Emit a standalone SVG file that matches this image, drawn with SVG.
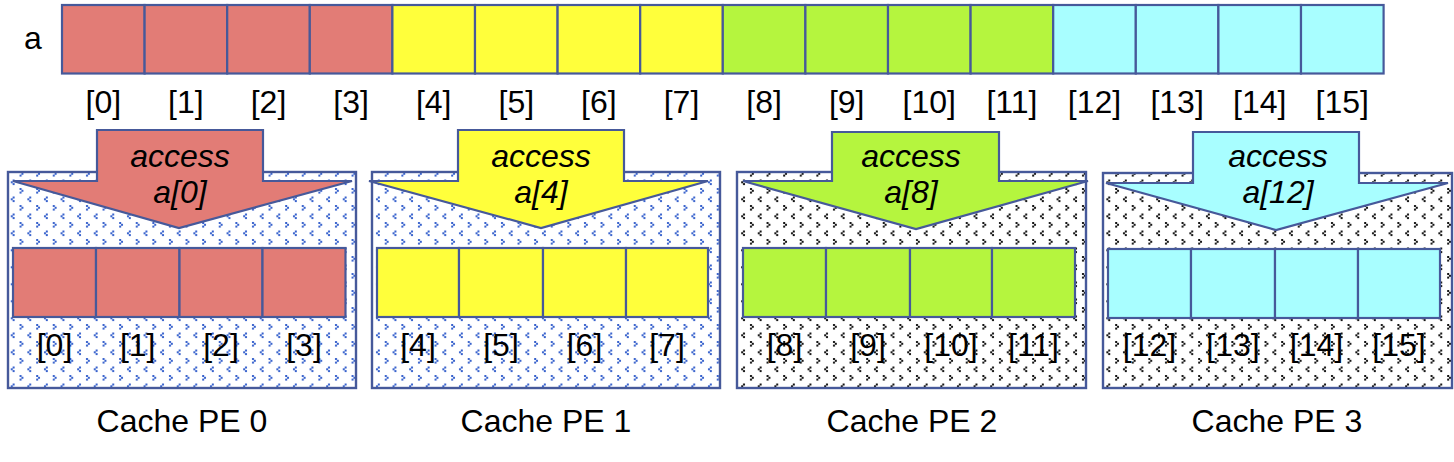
<svg xmlns="http://www.w3.org/2000/svg" width="1454" height="462" viewBox="0 0 1454 462">
<defs>
  <pattern id="divBlue" width="16.6" height="17" patternUnits="userSpaceOnUse">
    <g fill="#3560cc">
      <rect x="3" y="1" width="2" height="2"/><rect x="4.8" y="2.8" width="2" height="2"/><rect x="3" y="4.6" width="2" height="2"/>
      <rect x="12.6" y="9.5" width="2" height="2"/><rect x="10.8" y="11.3" width="2" height="2"/><rect x="12.6" y="13.1" width="2" height="2"/>
    </g>
  </pattern>
  <pattern id="divBlack" width="16.6" height="17" patternUnits="userSpaceOnUse">
    <g fill="#111">
      <rect x="3" y="1" width="2" height="2"/><rect x="4.8" y="2.8" width="2" height="2"/><rect x="3" y="4.6" width="2" height="2"/>
      <rect x="12.6" y="9.5" width="2" height="2"/><rect x="10.8" y="11.3" width="2" height="2"/><rect x="12.6" y="13.1" width="2" height="2"/>
    </g>
  </pattern>
</defs>
<style>
  .cell { stroke: #46599a; stroke-width: 2.2; }
  .red { fill: #e27c76; }
  .yel { fill: #ffff3b; }
  .grn { fill: #b5f53e; }
  .cyn { fill: #a8feff; }
  .box { stroke: #46599a; stroke-width: 2.4; }
  .arrow { stroke: #46599a; stroke-width: 2.2; stroke-linejoin: miter; }
  text { font-family: "Liberation Sans", Arial, sans-serif; font-size: 32px; fill: #000; }
  .c { text-anchor: middle; }
  .it { font-style: italic; }
</style>

<g id="array-a">
  <text x="24" y="49">a</text>
  <g class="cell">
    <rect class="red" x="62" y="5" width="82.6" height="68.5"/>
    <rect class="red" x="144.6" y="5" width="82.6" height="68.5"/>
    <rect class="red" x="227.2" y="5" width="82.6" height="68.5"/>
    <rect class="red" x="309.8" y="5" width="82.6" height="68.5"/>
    <rect class="yel" x="392.4" y="5" width="82.6" height="68.5"/>
    <rect class="yel" x="475" y="5" width="82.6" height="68.5"/>
    <rect class="yel" x="557.6" y="5" width="82.6" height="68.5"/>
    <rect class="yel" x="640.2" y="5" width="82.6" height="68.5"/>
    <rect class="grn" x="722.8" y="5" width="82.6" height="68.5"/>
    <rect class="grn" x="805.4" y="5" width="82.6" height="68.5"/>
    <rect class="grn" x="888" y="5" width="82.6" height="68.5"/>
    <rect class="grn" x="970.6" y="5" width="82.6" height="68.5"/>
    <rect class="cyn" x="1053.2" y="5" width="82.6" height="68.5"/>
    <rect class="cyn" x="1135.8" y="5" width="82.6" height="68.5"/>
    <rect class="cyn" x="1218.4" y="5" width="82.6" height="68.5"/>
    <rect class="cyn" x="1301" y="5" width="82.6" height="68.5"/>
  </g>
  <g class="c">
    <text class="c" x="103.3" y="113">[0]</text>
    <text class="c" x="185.9" y="113">[1]</text>
    <text class="c" x="268.5" y="113">[2]</text>
    <text class="c" x="351.1" y="113">[3]</text>
    <text class="c" x="433.7" y="113">[4]</text>
    <text class="c" x="516.3" y="113">[5]</text>
    <text class="c" x="598.9" y="113">[6]</text>
    <text class="c" x="681.5" y="113">[7]</text>
    <text class="c" x="764.1" y="113">[8]</text>
    <text class="c" x="846.7" y="113">[9]</text>
    <text class="c" x="929.3" y="113">[10]</text>
    <text class="c" x="1011.9" y="113">[11]</text>
    <text class="c" x="1094.5" y="113">[12]</text>
    <text class="c" x="1177.1" y="113">[13]</text>
    <text class="c" x="1259.7" y="113">[14]</text>
    <text class="c" x="1342.3" y="113">[15]</text>
  </g>
</g>

<g id="cache-pe0">
  <rect class="box" x="8" y="172" width="348" height="216" fill="url(#divBlue)"/>
  <polygon class="arrow red" points="97,130 263,130 263,181 352,181 179,228 13,181 97,181"/>
  <text class="c it" x="180" y="167">access</text>
  <text class="c it" x="180" y="203">a[0]</text>
  <g class="cell">
    <rect class="red" x="13" y="248" width="83" height="69"/>
    <rect class="red" x="96" y="248" width="83.5" height="69"/>
    <rect class="red" x="179.5" y="248" width="83" height="69"/>
    <rect class="red" x="262.5" y="248" width="83" height="69"/>
  </g>
  <text class="c" x="54.5" y="356">[0]</text>
  <text class="c" x="137.7" y="356">[1]</text>
  <text class="c" x="221" y="356">[2]</text>
  <text class="c" x="304" y="356">[3]</text>
  <text class="c" x="182" y="432">Cache PE 0</text>
</g>

<g id="cache-pe1">
  <rect class="box" x="372" y="172" width="348" height="216" fill="url(#divBlue)"/>
  <polygon class="arrow yel" points="458,130 624,130 624,181 708,181 541,228 369,181 458,181"/>
  <text class="c it" x="541" y="167">access</text>
  <text class="c it" x="541" y="203">a[4]</text>
  <g class="cell">
    <rect class="yel" x="377" y="248" width="82" height="69"/>
    <rect class="yel" x="459" y="248" width="84" height="69"/>
    <rect class="yel" x="543" y="248" width="83" height="69"/>
    <rect class="yel" x="626" y="248" width="82" height="69"/>
  </g>
  <text class="c" x="418" y="356">[4]</text>
  <text class="c" x="501" y="356">[5]</text>
  <text class="c" x="584.5" y="356">[6]</text>
  <text class="c" x="667" y="356">[7]</text>
  <text class="c" x="546" y="432">Cache PE 1</text>
</g>

<g id="cache-pe2">
  <rect class="box" x="737" y="172" width="349" height="216" fill="url(#divBlack)"/>
  <polygon class="arrow grn" points="832,132 999,132 999,181 1088,181 916,229 743,181 832,181"/>
  <text class="c it" x="911" y="167">access</text>
  <text class="c it" x="911" y="203">a[8]</text>
  <g class="cell">
    <rect class="grn" x="743" y="248" width="83" height="69"/>
    <rect class="grn" x="826" y="248" width="84" height="69"/>
    <rect class="grn" x="910" y="248" width="82" height="69"/>
    <rect class="grn" x="992" y="248" width="83" height="69"/>
  </g>
  <text class="c" x="784.5" y="356">[8]</text>
  <text class="c" x="868" y="356">[9]</text>
  <text class="c" x="951" y="356">[10]</text>
  <text class="c" x="1033.5" y="356">[11]</text>
  <text class="c" x="912" y="432">Cache PE 2</text>
</g>

<g id="cache-pe3">
  <rect class="box" x="1103" y="173" width="349" height="215" fill="url(#divBlack)"/>
  <polygon class="arrow cyn" points="1193,132 1359,132 1359,183 1448,183 1276,230 1106,183 1193,183"/>
  <text class="c it" x="1278" y="167">access</text>
  <text class="c it" x="1278" y="203">a[12]</text>
  <g class="cell">
    <rect class="cyn" x="1108" y="249" width="83" height="69"/>
    <rect class="cyn" x="1191" y="249" width="84" height="69"/>
    <rect class="cyn" x="1275" y="249" width="83" height="69"/>
    <rect class="cyn" x="1358" y="249" width="82" height="69"/>
  </g>
  <text class="c" x="1149.5" y="356">[12]</text>
  <text class="c" x="1233" y="356">[13]</text>
  <text class="c" x="1316.5" y="356">[14]</text>
  <text class="c" x="1399" y="356">[15]</text>
  <text class="c" x="1277" y="432">Cache PE 3</text>
</g>

<g id="connectors"></g>
</svg>
